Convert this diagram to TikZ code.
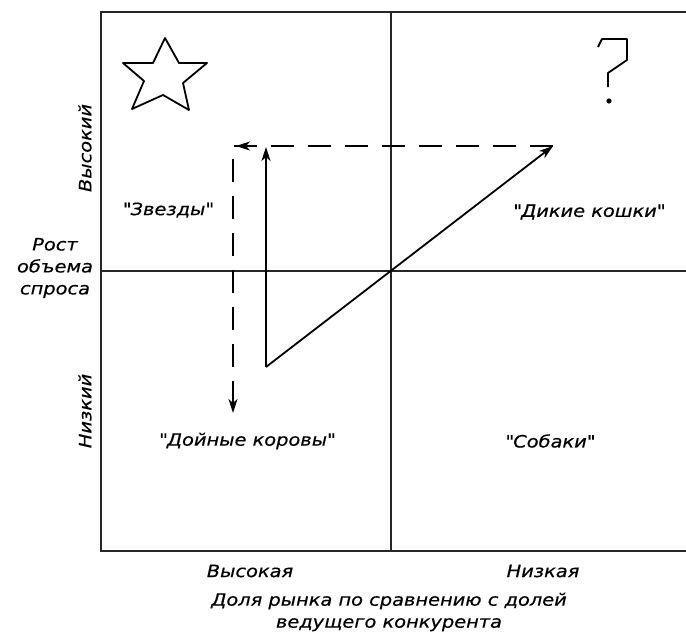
\documentclass[tikz,border=0pt]{standalone}
\usepackage{fontspec}
\setmainfont{DejaVu Sans}[FakeStretch=1.14,FakeBold=0.5]
\usetikzlibrary{arrows.meta}
\begin{document}
\begin{tikzpicture}[x=1pt,y=-1pt,
  lbl/.style={font=\fontsize{17}{22}\selectfont\itshape, inner sep=0pt, align=center},
  frame/.style={line width=2pt, black!85},
  tip/.style={-{Stealth[length=14pt,width=9pt,inset=4pt]}},
  arr/.style={line width=1.8pt, tip},
  dsh/.style={line width=1.9pt, dash pattern=on 23pt off 14pt},
  sym/.style={line width=1.8pt, line join=round}]
\useasboundingbox (0,0) rectangle (686,632);
% frame and axes
\coordinate (TL) at (101,12);
\coordinate (BL) at (101,551);
\coordinate (TR) at (686,12);
\coordinate (BR) at (686,551);
\coordinate (ML) at (101,271);
\coordinate (MR) at (686,271);
\coordinate (MT) at (391,12);
\coordinate (MB) at (391,551);
\draw[frame] (TR) -- (TL) -- (BL) -- (BR);
\draw[frame] (ML) -- (MR);
\draw[frame] (MT) -- (MB);
% star
\draw[sym] (165,38) -- (179,63) -- (207,63) -- (183,83) -- (189,110) -- (163,95)
  -- (132,109) -- (144,81) -- (123,63) -- (153,63) -- cycle;
% question mark
\draw[sym] (598,47) -- (602,39) -- (627,39) -- (627,60) -- (608,73) -- (608,87);
\fill (609,101) circle (2.6pt);
% arrows
\coordinate (A) at (553,146);
\coordinate (C) at (233,146);
\coordinate (D) at (233,413);
\coordinate (B) at (266,367);
\coordinate (T) at (266,147);
\coordinate (Ca) at (256,146);
\coordinate (Cb) at (236,146);
\coordinate (Da) at (233,395);
\draw[dsh] (A) -- (C) -- (D);
\draw[line width=1.8pt, tip] (Da) -- (D);
\draw[line width=1.8pt, tip] (Ca) -- (Cb);
\draw[arr] (B) -- (T);
\draw[arr] (B) -- (A);
% labels
\node[lbl] (zv) at (168,210) {\textquotedbl Звезды\textquotedbl};
\node[lbl] (dk) at (589,212) {\textquotedbl Дикие кошки\textquotedbl};
\node[lbl] (dkr) at (247,441) {\textquotedbl Дойные коровы\textquotedbl};
\node[lbl] (sob) at (550,441) {\textquotedbl Собаки\textquotedbl};
\node[lbl, rotate=90] (vys) at (85,148) {Высокий};
\node[lbl, rotate=90] (niz) at (85,411) {Низкий};
\node[lbl] (rost) at (55,268) {Рост\\объема\\спроса};
\node[lbl] (vsk) at (250,571) {Высокая};
\node[lbl] (nzk) at (543,571) {Низкая};
\node[lbl] (dol) at (389,612) {Доля рынка по сравнению с долей\\ведущего конкурента};
\end{tikzpicture}
\end{document}
